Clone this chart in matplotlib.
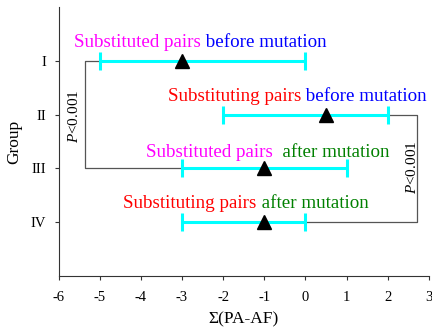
import numpy as np
import matplotlib.pyplot as plt

plt.rcParams['font.family'] = 'serif'
plt.rcParams['font.serif'] = ['Liberation Serif', 'DejaVu Serif']
plt.rcParams['mathtext.fontset'] = 'custom'
plt.rcParams['mathtext.rm'] = 'Liberation Serif'
plt.rcParams['mathtext.it'] = 'Liberation Serif:italic'
plt.rcParams['axes.unicode_minus'] = False

# data
groups = ['I', 'II', 'III', 'IV']
group_pos = [1, 2, 3, 4]
means = [-3, 0.5, -1, -1]
lows = [-5, -2, -3, -3]
highs = [0, 2, 1, 0]

labels = [
    [('Substituted pairs', 'magenta'), (' before mutation', 'blue')],
    [('Substituting pairs', 'red'), (' before mutation', 'blue')],
    [('Substituted pairs', 'magenta'), ('  after mutation', 'green')],
    [('Substituting pairs', 'red'), (' after mutation', 'green')],
]
label_x = [-5.63, -3.34, -3.88, -4.43]
label_y = [0.74, 1.75, 2.78, 3.73]

fig = plt.figure(figsize=(4.32, 3.36), dpi=100)
ax = fig.add_axes([0.1356, 0.1786, 0.857, 0.8])

means = np.array(means)
err = [means - np.array(lows), np.array(highs) - means]
ax.errorbar(means, group_pos, xerr=err, fmt='none', ecolor='cyan',
            elinewidth=2.2, capsize=6.3, capthick=2.2, zorder=2)
ax.plot(means, group_pos, '^', color='black', markersize=10, zorder=3)

# significance brackets
bx_left = -5.36
ax.plot([lows[0], bx_left, bx_left, lows[2]], [1, 1, 3, 3],
        color='#555555', lw=0.9, zorder=1)
bx_right = 2.72
ax.plot([highs[1], bx_right, bx_right, highs[3]], [2, 2, 4, 4],
        color='#555555', lw=0.9, zorder=1)
ax.text(-5.62, 2.03, r'$P$<0.001', rotation=90, ha='center', va='center', fontsize=11)
ax.text(2.6, 2.97, r'$P$<0.001', rotation=90, ha='center', va='center', fontsize=11)

# multi-coloured labels
for pieces, x, y in zip(labels, label_x, label_y):
    prev = ax.text(x, y, pieces[0][0], color=pieces[0][1], fontsize=13.7,
                   ha='left', va='baseline')
    for txt, col in pieces[1:]:
        prev = ax.annotate(txt, xy=(1, 0), xycoords=prev, color=col,
                           fontsize=13.7, ha='left', va='bottom')

ax.set_xlim(-6, 3)
ax.set_ylim(5, 0)
ax.set_xticks(range(-6, 4))
ax.set_yticks(group_pos)
ax.set_yticklabels(groups)
ax.tick_params(labelsize=10.5, length=3, width=0.8, color='#333333')
ax.tick_params(axis='x', pad=8)
ax.tick_params(axis='y', pad=6)
for s in ['top', 'right']:
    ax.spines[s].set_visible(False)
for s in ['left', 'bottom']:
    ax.spines[s].set_color('#333333')
    ax.spines[s].set_linewidth(0.8)

ax.set_xlabel('Σ(PA-AF)', fontsize=12.5, labelpad=5)
ax.set_ylabel('Group', fontsize=12.5, labelpad=6)

fig.savefig('out.png', dpi=100)
